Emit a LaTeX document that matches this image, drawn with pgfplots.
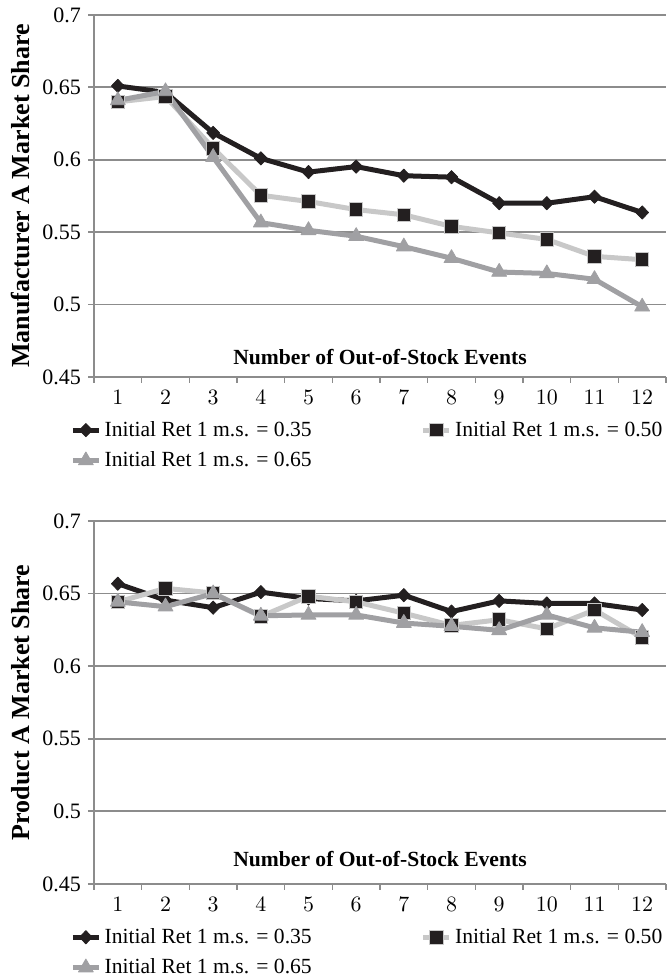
\documentclass[border=0pt]{standalone}
\usepackage{fontspec}
\setmainfont{Liberation Serif}
\usepackage{pgfplots}
\pgfplotsset{compat=1.18}
\definecolor{cblack}{HTML}{231F20}
\definecolor{clight}{HTML}{C8C8C8}
\definecolor{cgrey}{HTML}{A0A0A3}
\definecolor{cgrid}{HTML}{8C8C8C}
\pgfplotsset{
 mystyle/.style={
  scale only axis, width=286pt, height=181pt,
  xmin=0.5, xmax=12.5, ymin=0.45, ymax=0.7,
  xtick={1,...,12},
  minor xtick={0.5,1.5,...,12.5},
  ytick={0.45,0.5,0.55,0.6,0.65,0.7},
  yticklabels={0.45,0.5,0.55,0.6,0.65,0.7},
  axis lines*=left,
  axis line style={cgrid, line width=0.9pt},
  ymajorgrids, grid style={cgrid, line width=0.9pt},
  tick align=outside,
  major tick length=3pt, minor tick length=3pt,
  major x tick style={draw=none},
  minor x tick style={cgrid, line width=0.6pt},
  major y tick style={cgrid, line width=0.9pt},
  tick label style={font=\fontsize{11}{13}\selectfont, text=black},
  every axis y label/.style={at={(axis description cs:-0.129,0.5)}, rotate=90, anchor=center, font=\bfseries\fontsize{13}{15}\selectfont},
  legend columns=2,
  legend cell align=left,
  legend style={at={(axis description cs:-0.042,-0.112)}, anchor=north west, draw=none, fill=none, inner sep=0pt,
    font=\fontsize{10.8}{13}\selectfont, nodes={inner sep=1.6pt},
    /tikz/every even column/.append style={column sep=53pt}, row sep=3pt},
  legend image code/.code={\draw[mark repeat=2,mark phase=2] plot coordinates {(0pt,0pt) (6.5pt,0pt) (13pt,0pt)};},
 },
 s1/.style={cblack, line width=2.5pt, line join=round, mark=diamond*, mark size=3.3pt, mark options={solid, xscale=1.3, line width=0.4pt, fill=cblack, draw=cblack}},
 s2/.style={clight, line width=2.5pt, line join=round, mark=square*, mark size=3.4pt, mark options={solid, line width=0.5pt, fill=cblack, draw=clight}},
 s3/.style={cgrey, line width=2.5pt, line join=round, mark=triangle*, mark size=4.3pt, mark options={solid, line width=0.4pt, fill=cgrey, draw=cgrey}},
}
\begin{document}
\begin{tikzpicture}
\useasboundingbox (0,0) rectangle (333.5pt,490pt);
\begin{axis}[mystyle, at={(47pt,301.5pt)}, anchor=south west, ylabel={Manufacturer A Market Share}]
\addplot[s1] coordinates {(1,0.651)(2,0.6465)(3,0.6186)(4,0.601)(5,0.5915)(6,0.5953)(7,0.589)(8,0.588)(9,0.570)(10,0.570)(11,0.5745)(12,0.5636)};
\addplot[s2] coordinates {(1,0.640)(2,0.6437)(3,0.608)(4,0.5755)(5,0.5712)(6,0.5656)(7,0.562)(8,0.554)(9,0.5495)(10,0.545)(11,0.5333)(12,0.531)};
\addplot[s3] coordinates {(1,0.641)(2,0.6472)(3,0.6018)(4,0.5566)(5,0.5513)(6,0.5472)(7,0.540)(8,0.532)(9,0.5225)(10,0.5215)(11,0.5175)(12,0.4985)};
\legend{Initial Ret 1 m.s. = 0.35, Initial Ret 1 m.s. = 0.50, Initial Ret 1 m.s. = 0.65}
\node[font=\bfseries\fontsize{10.8}{13}\selectfont, anchor=center] at (axis description cs:0.5,0.056) {Number of Out-of-Stock Events};
\end{axis}
\begin{axis}[mystyle, at={(47pt,48pt)}, anchor=south west, height=181.5pt, ylabel={Product A Market Share}]
\addplot[s1] coordinates {(1,0.6568)(2,0.6455)(3,0.6403)(4,0.651)(5,0.6466)(6,0.645)(7,0.6489)(8,0.6376)(9,0.645)(10,0.6432)(11,0.6432)(12,0.6387)};
\addplot[s2] coordinates {(1,0.6443)(2,0.6536)(3,0.6504)(4,0.6342)(5,0.6482)(6,0.6443)(7,0.6365)(8,0.6281)(9,0.632)(10,0.6257)(11,0.6387)(12,0.6196)};
\addplot[s3] coordinates {(1,0.6443)(2,0.641)(3,0.650)(4,0.6347)(5,0.6353)(6,0.6353)(7,0.6297)(8,0.6275)(9,0.6247)(10,0.6353)(11,0.6264)(12,0.6234)};
\legend{Initial Ret 1 m.s. = 0.35, Initial Ret 1 m.s. = 0.50, Initial Ret 1 m.s. = 0.65}
\node[font=\bfseries\fontsize{10.8}{13}\selectfont, anchor=center] at (axis description cs:0.5,0.07) {Number of Out-of-Stock Events};
\end{axis}
\end{tikzpicture}
\end{document}
